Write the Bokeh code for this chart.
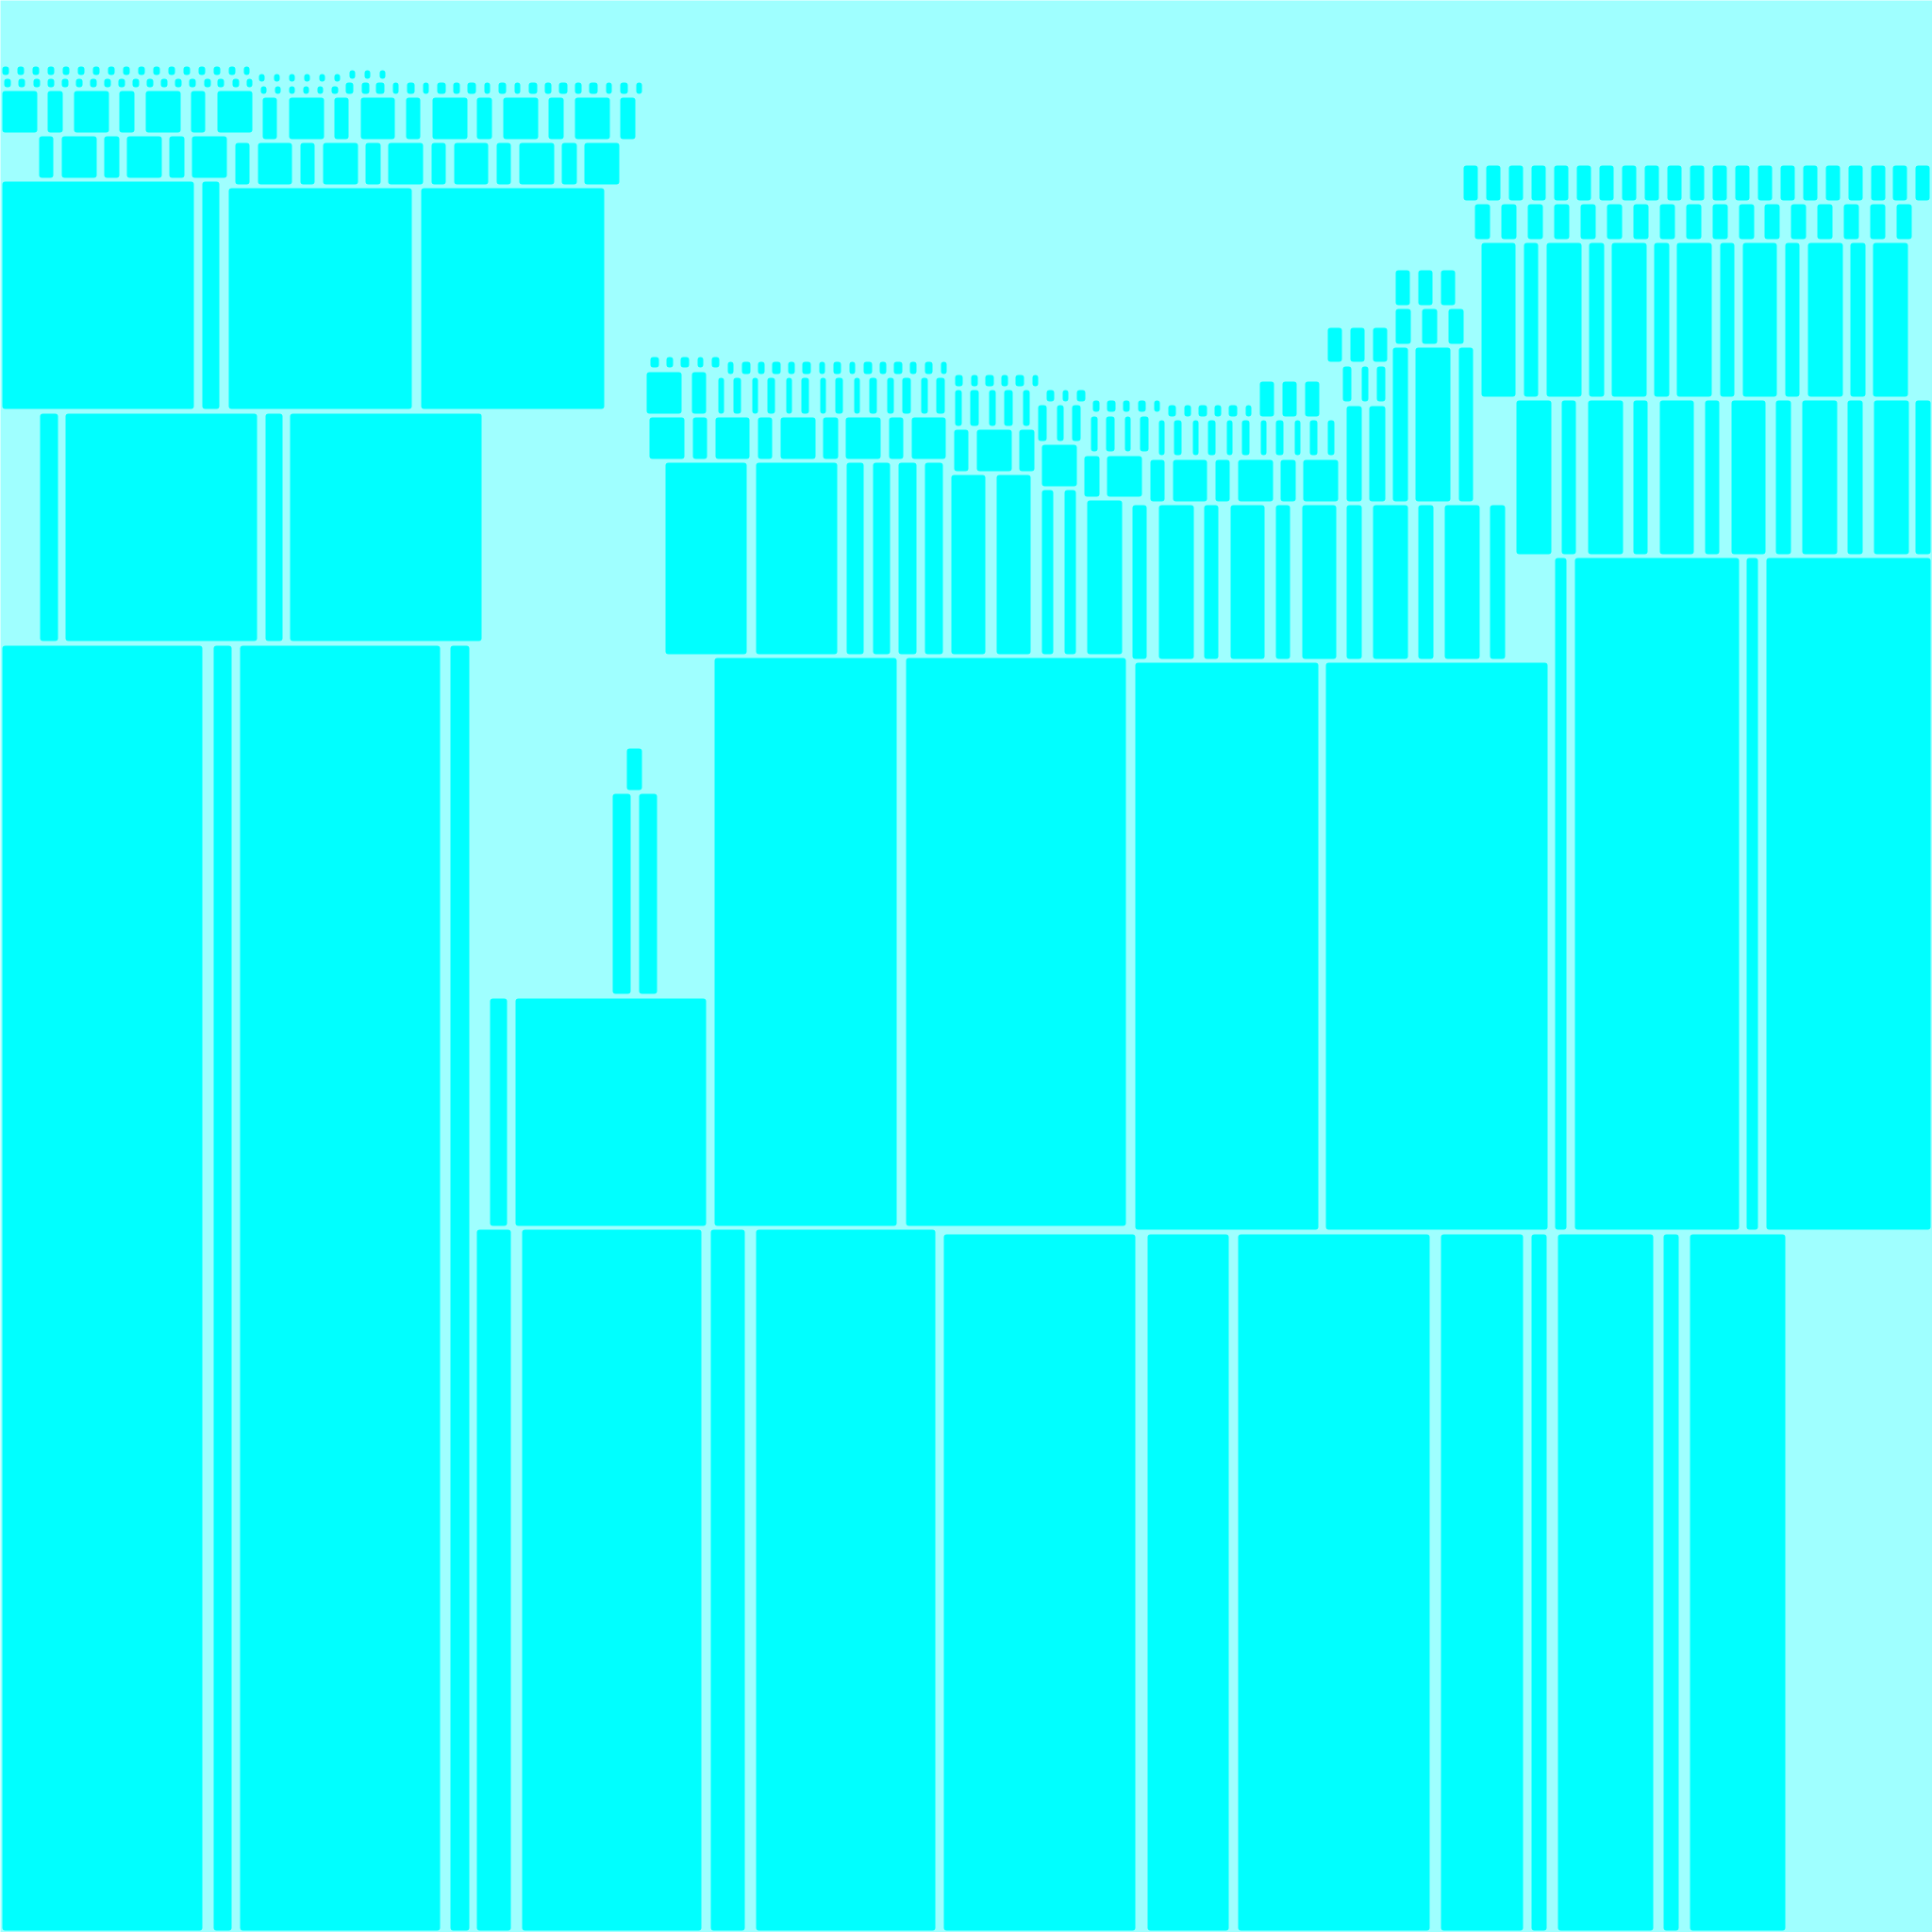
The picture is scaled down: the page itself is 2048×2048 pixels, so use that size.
from bokeh.plotting import figure
from bokeh.embed import file_html
from bokeh.resources import INLINE
from bokeh.models import ColumnDataSource

BG = "#9fffff"
FILL = "#00ffff"

# Each row: (top, bottom, [left, right, left, right, ...]) in pixel units, y downward
# ---- left tower ----
left_base = (684, 2046, [2, 214, 226, 245, 254, 466, 477, 497])
left_l1 = (438, 679, [42, 61, 69, 272, 281, 299, 307, 510])
left_l2a = (192, 433, [2, 205, 214, 232])
left_l2b = (199, 433, [242, 436, 446, 640])
left_l3a = (144, 188, [41, 56, 65, 102, 110, 126, 134, 171, 179, 195, 203, 240])
left_l3b = (151, 195, [249, 264, 273, 309, 318, 333, 342, 379, 387, 403, 411, 448,
                       457, 472, 481, 517, 526, 541, 550, 587, 595, 611, 619, 656])
left_l4a = (96, 140, [2, 39, 50, 66, 78, 115, 126, 142, 154, 191, 202, 217, 230, 267])
left_l4b = (103, 147, [278, 293, 306, 343, 354, 369, 382, 418, 430, 445, 458, 495,
                       505, 521, 533, 570, 581, 597, 609, 646, 657, 673])
left_t1 = (70, 79, [2, 9, 18, 25, 34, 41, 50, 57, 66, 73, 82, 89, 98, 105, 114, 121,
                    130, 137, 146, 153, 162, 169, 178, 185, 194, 201, 210, 217,
                    226, 233, 242, 249, 258, 264])
left_t2 = (83, 92, [4, 11, 19, 26, 35, 42, 50, 57, 65, 72, 80, 87, 95, 102, 110, 117,
                    125, 132, 140, 147, 155, 162, 170, 177, 185, 192, 200, 207,
                    216, 223, 230, 237, 246, 253, 261, 267])
left_t3 = (78, 86, [274, 280, 290, 296, 306, 312, 322, 328, 338, 344, 354, 360])
left_t3b = (74, 83, [370, 376, 386, 392, 402, 408])
left_t4 = (91, 99, [276, 282, 291, 297, 306, 312, 321, 327, 336, 342, 351, 358])
left_t4b = (87, 99, [366, 374, 383, 391, 398, 407, 416, 422, 431, 439, 448, 454,
                     463, 472, 480, 487, 495, 504, 513, 519, 528, 536, 545, 551,
                     560, 569, 577, 584, 592, 601, 609, 616, 624, 633, 642, 648,
                     657, 665, 674, 680])

# ---- small spire ----
spire_base = (1058, 1299, [519, 537, 546, 748])
spire_mid = (841, 1053, [649, 668, 677, 696])
spire_top = (793, 837, [664, 680])

# ---- bottom middle / right ----
bottom_mid = (1303, 2046, [505, 541, 553, 743, 753, 789, 801, 991])
bottom_right = (1308, 2046, [1000, 1203, 1216, 1302, 1312, 1515, 1527, 1614,
                             1623, 1639, 1651, 1752, 1763, 1779, 1791, 1892])

# ---- middle block ----
mid_ta = (378, 389, [689, 698, 706, 713, 721, 730, 739, 745, 754, 762])
mid_b = (394, 438, [685, 722, 733, 748])
mid_tc = (383, 396, [771, 777, 786, 795, 803, 810, 818, 827, 835, 842, 850, 859,
                     868, 874, 883, 891, 900, 906, 915, 924, 932, 939, 947, 956,
                     964, 971, 980, 988, 997, 1003])
mid_d = (400, 438, [761, 767, 777, 785, 797, 803, 813, 821, 833, 839, 849, 857,
                    869, 875, 885, 893, 905, 911, 921, 929, 940, 947, 956, 965,
                    976, 983, 992, 1001])
mid_e = (442, 486, [688, 725, 734, 749, 758, 794, 803, 818, 827, 864, 872, 888,
                    896, 933, 942, 957, 966, 1002])
mid_f = (490, 693, [705, 791, 801, 887, 897, 915, 925, 943, 952, 971, 980, 999])
mid_base = (697, 1299, [757, 950, 960, 1193])

g1_t = (397, 409, [1012, 1020, 1029, 1036, 1044, 1053, 1061, 1068, 1076, 1085, 1094, 1100])
g1_h = (413, 451, [1012, 1019, 1028, 1037, 1048, 1055, 1064, 1073, 1084, 1091])
g1_i = (455, 499, [1011, 1026, 1035, 1072, 1080, 1096])
g1_j = (503, 693, [1008, 1044, 1056, 1092])

g2_t = (413, 425, [1109, 1117, 1126, 1132, 1141, 1150])
g2_l = (429, 467, [1100, 1109, 1120, 1127, 1136, 1145])
g2_m = (471, 515, [1104, 1141])
g2_n = (519, 693, [1104, 1116, 1128, 1140])

g3_t = (424, 436, [1158, 1165, 1173, 1182, 1190, 1197, 1206, 1214, 1223, 1229])
g3_a = (441, 478, [1156, 1163, 1172, 1181, 1192, 1198, 1208, 1217])
g3_b = (483, 526, [1149, 1165, 1173, 1210])
g3_c = (530, 693, [1152, 1189])

g4_t = (429, 441, [1238, 1246, 1255, 1262, 1270, 1279, 1287, 1294, 1302, 1311, 1320, 1326])
g4_a = (445, 482, [1228, 1234, 1244, 1252, 1264, 1270, 1280, 1288, 1300, 1306, 1316, 1324,
                   1336, 1342, 1352, 1360, 1372, 1378, 1388, 1396, 1407, 1414])
g4_b = (487, 531, [1219, 1234, 1243, 1279, 1288, 1303, 1312, 1349, 1357, 1373, 1381, 1418])
g4_tt = (404, 441, [1335, 1350, 1359, 1374, 1383, 1398])
g4_base = (535, 698, [1200, 1215, 1228, 1265, 1276, 1291, 1304, 1340, 1352, 1367,
                      1380, 1416, 1427, 1443, 1455, 1492, 1503, 1519, 1531, 1568, 1579, 1595])
g4_big = (702, 1303, [1203, 1397, 1405, 1640])

g5_a = (347, 383, [1407, 1422, 1431, 1446, 1455, 1470])
g5_b = (388, 425, [1423, 1432, 1443, 1450, 1459, 1468])
g5_c = (430, 531, [1427, 1443, 1451, 1468])

g6_a = (286, 323, [1479, 1494, 1503, 1518, 1527, 1542])
g6_b = (327, 364, [1479, 1495, 1507, 1523, 1535, 1551])
g6_c = (368, 531, [1476, 1492, 1500, 1537, 1546, 1561])

# ---- right tower ----
right_t1 = (175, 212, [1551, 1566, 1575, 1590, 1599, 1614, 1623, 1638, 1647, 1662,
                       1671, 1686, 1695, 1710, 1719, 1734, 1743, 1758, 1767, 1782,
                       1791, 1806, 1815, 1830, 1839, 1854, 1863, 1878, 1887, 1902,
                       1911, 1926, 1935, 1950, 1959, 1974, 1983, 1998, 2006, 2021,
                       2030, 2045])
right_t2 = (216, 253, [1563, 1579, 1591, 1607, 1619, 1635, 1647, 1663, 1675, 1691,
                       1703, 1719, 1731, 1747, 1759, 1775, 1787, 1803, 1815, 1831,
                       1843, 1859, 1870, 1886, 1898, 1914, 1926, 1942, 1954, 1970,
                       1982, 1998, 2010, 2026])
right_r3 = (257, 420, [1570, 1606, 1615, 1630, 1639, 1676, 1684, 1700, 1708, 1745,
                       1753, 1769, 1777, 1814, 1823, 1838, 1847, 1883, 1892, 1907,
                       1916, 1953, 1961, 1977, 1985, 2022])
right_r4 = (424, 587, [1607, 1644, 1655, 1670, 1683, 1720, 1731, 1746, 1759, 1795,
                       1807, 1822, 1835, 1871, 1882, 1898, 1910, 1947, 1958, 1974,
                       1986, 2023, 2030, 2046])
right_base = (591, 1303, [1648, 1660, 1669, 1843, 1851, 1863, 1872, 2046])

rows = [left_base, left_l1, left_l2a, left_l2b, left_l3a, left_l3b, left_l4a, left_l4b,
        left_t1, left_t2, left_t3, left_t3b, left_t4, left_t4b,
        spire_base, spire_mid, spire_top, bottom_mid, bottom_right,
        mid_ta, mid_b, mid_tc, mid_d, mid_e, mid_f, mid_base,
        g1_t, g1_h, g1_i, g1_j, g2_t, g2_l, g2_m, g2_n,
        g3_t, g3_a, g3_b, g3_c, g4_t, g4_a, g4_b, g4_tt, g4_base, g4_big,
        g5_a, g5_b, g5_c, g6_a, g6_b, g6_c,
        right_t1, right_t2, right_r3, right_r4, right_base]

L, R, T, B = [], [], [], []
for top, bot, xs in rows:
    for i in range(0, len(xs), 2):
        L.append(xs[i]); R.append(xs[i + 1]); T.append(top); B.append(bot)

src = ColumnDataSource(dict(left=L, right=R, top=T, bottom=B))

p = figure(width=2048, height=2048, x_range=(0, 2048), y_range=(2048, 0),
           output_backend="svg", toolbar_location=None, min_border=0)
p.axis.visible = False
p.grid.visible = False
p.outline_line_color = None
p.background_fill_color = BG
p.border_fill_color = BG

p.quad(left="left", right="right", top="top", bottom="bottom", source=src,
       fill_color=FILL, line_color=None, border_radius=3)

open("out.html", "w").write(file_html(p, INLINE))
